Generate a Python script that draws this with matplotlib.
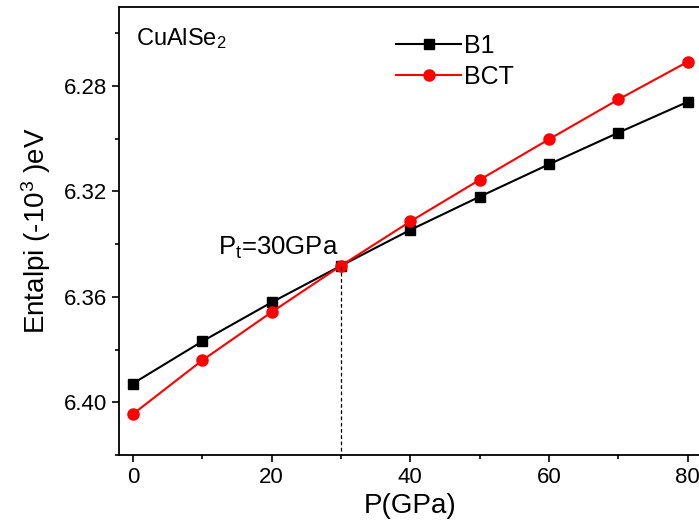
import matplotlib
matplotlib.use("Agg")
import matplotlib.pyplot as plt
from matplotlib.ticker import MultipleLocator

plt.rcParams['font.family'] = ['Liberation Sans', 'DejaVu Sans']
plt.rcParams['mathtext.fontset'] = 'custom'
plt.rcParams['mathtext.rm'] = 'Liberation Sans'
plt.rcParams['mathtext.it'] = 'Liberation Sans'

pressure = [0, 10, 20, 30, 40, 50, 60, 70, 80]
b1 = [6.3929, 6.3769, 6.3621, 6.3482, 6.3346, 6.3220, 6.3097, 6.2977, 6.2860]
bct = [6.4045, 6.3841, 6.3658, 6.3482, 6.3314, 6.3156, 6.3002, 6.2851, 6.2708]
p_transition = 30
h_transition = 6.3482

fig = plt.figure(figsize=(6.99, 5.28), dpi=100)
ax = fig.add_axes([0.1702, 0.1383, 0.8335, 0.8485])

ax.plot(pressure, b1, color='black', lw=1.5, marker='s', ms=6.5, label='B1')
ax.plot(pressure, bct, color='red', lw=1.5, marker='o', ms=8, label='BCT')
ax.plot([p_transition, p_transition], [h_transition, 6.42], color='black',
        lw=0.9, ls=(0, (3, 2)))

ax.set_xlim(-2, 82)
ax.set_ylim(6.42, 6.25)
ax.xaxis.set_major_locator(MultipleLocator(20))
ax.xaxis.set_minor_locator(MultipleLocator(10))
ax.yaxis.set_major_locator(MultipleLocator(0.04))
ax.yaxis.set_minor_locator(MultipleLocator(0.02))
ax.yaxis.set_major_formatter(plt.FuncFormatter(lambda v, p: f"{v:.2f}"))
ax.tick_params(which='both', direction='out', labelsize=16, width=1.2)
ax.tick_params(which='major', length=5)
ax.tick_params(which='minor', length=3)
for s in ax.spines.values():
    s.set_linewidth(1.3)

ax.set_xlabel('P(GPa)', fontsize=20, labelpad=4)
ax.set_ylabel('Entalpi (-10$^3$ )eV', fontsize=20, labelpad=8)

ax.text(0.5, 6.262, 'CuAlSe$_2$', fontsize=17, va='center', ha='left')
ax.text(29.7, 6.3465, 'P$_t$=30GPa', fontsize=18.5, va='bottom', ha='right')

leg = ax.legend(loc='upper left', bbox_to_anchor=(0.459, 0.963), frameon=False,
                fontsize=18, handlelength=2.6, handletextpad=0.1,
                labelspacing=0.3, borderaxespad=0)

fig.savefig('out.png', dpi=100)
